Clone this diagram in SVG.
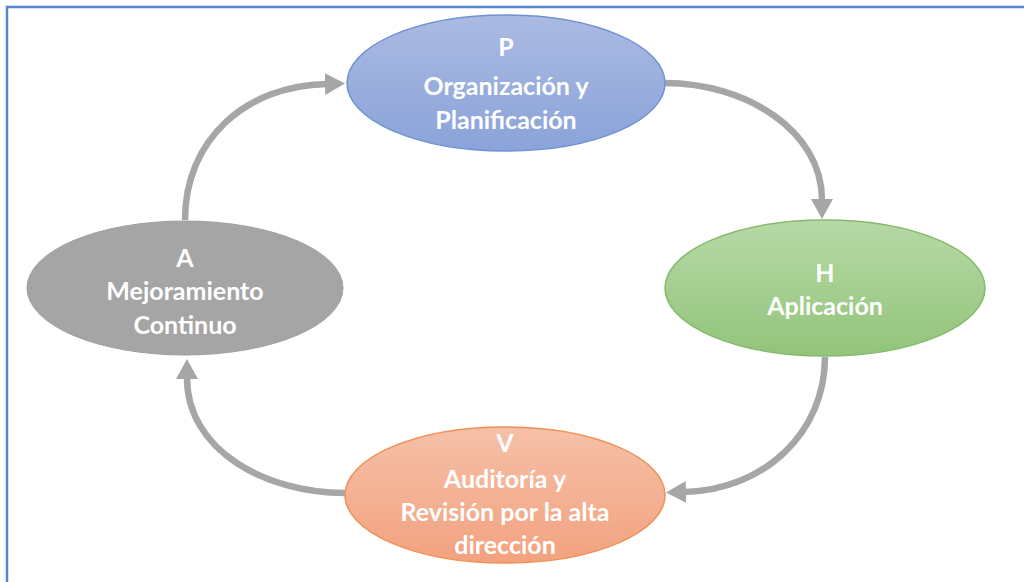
<svg xmlns="http://www.w3.org/2000/svg" width="1024" height="582" viewBox="0 0 1024 582">
<defs>
<linearGradient id="gP" x1="0" y1="0" x2="0" y2="1"><stop offset="0" stop-color="#abbae2"/><stop offset="1" stop-color="#8aa3d9"/></linearGradient>
<linearGradient id="gH" x1="0" y1="0" x2="0" y2="1"><stop offset="0" stop-color="#b7d9a6"/><stop offset="1" stop-color="#92c47b"/></linearGradient>
<linearGradient id="gV" x1="0" y1="0" x2="0" y2="1"><stop offset="0" stop-color="#f6c0a8"/><stop offset="1" stop-color="#f2a27f"/></linearGradient>
<marker id="ah" markerUnits="userSpaceOnUse" markerWidth="22" markerHeight="24" refX="1" refY="12" orient="auto"><path d="M0,1 L20,12 L0,23 z" fill="#a6a6a6"/></marker>
<style>
.lbl{font-family:Lato,"Open Sans","Liberation Sans",sans-serif;font-weight:bold;font-size:25px;fill:#ffffff;text-anchor:middle}
.arr{fill:none;stroke:#a6a6a6;stroke-width:6.5;marker-end:url(#ah)}
</style>
</defs>
<rect x="0" y="0" width="1024" height="582" fill="#ffffff"/>
<rect x="7" y="7" width="1040" height="600" fill="none" stroke="#5a86cf" stroke-width="2.5"/>
<g id="connectors">
<path class="arr" d="M185,220 C185,140 245,86 326,84"/>
<path class="arr" d="M665,83 C745,83 822,130 822,200"/>
<path class="arr" d="M825,357 C825,432 765,490 685,492"/>
<path class="arr" d="M345,493 C265,493 187,450 187,378"/>
</g>
<g id="nodeP">
<ellipse cx="506" cy="83" rx="159" ry="68" fill="url(#gP)" stroke="#6f92d2" stroke-width="1.5"/>
<text class="lbl" x="506" y="56">P</text>
<text class="lbl" x="506" y="95">Organización y</text>
<text class="lbl" x="506" y="129">Planificación</text>
</g>
<g id="nodeH">
<ellipse cx="825" cy="288" rx="160" ry="68" fill="url(#gH)" stroke="#86b96c" stroke-width="1.5"/>
<text class="lbl" x="825" y="282">H</text>
<text class="lbl" x="825" y="315">Aplicación</text>
</g>
<g id="nodeA">
<ellipse cx="185" cy="288" rx="158" ry="67" fill="#a5a5a5" stroke="#a0a0a0" stroke-width="1"/>
<text class="lbl" x="185" y="267">A</text>
<text class="lbl" x="185" y="300">Mejoramiento</text>
<text class="lbl" x="185" y="334">Continuo</text>
</g>
<g id="nodeV">
<ellipse cx="505" cy="495" rx="160" ry="68" fill="url(#gV)" stroke="#ee9155" stroke-width="1.5"/>
<text class="lbl" x="505" y="452">V</text>
<text class="lbl" x="505" y="488">Auditoría y</text>
<text class="lbl" x="505" y="521">Revisión por la alta</text>
<text class="lbl" x="505" y="554">dirección</text>
</g>
</svg>
